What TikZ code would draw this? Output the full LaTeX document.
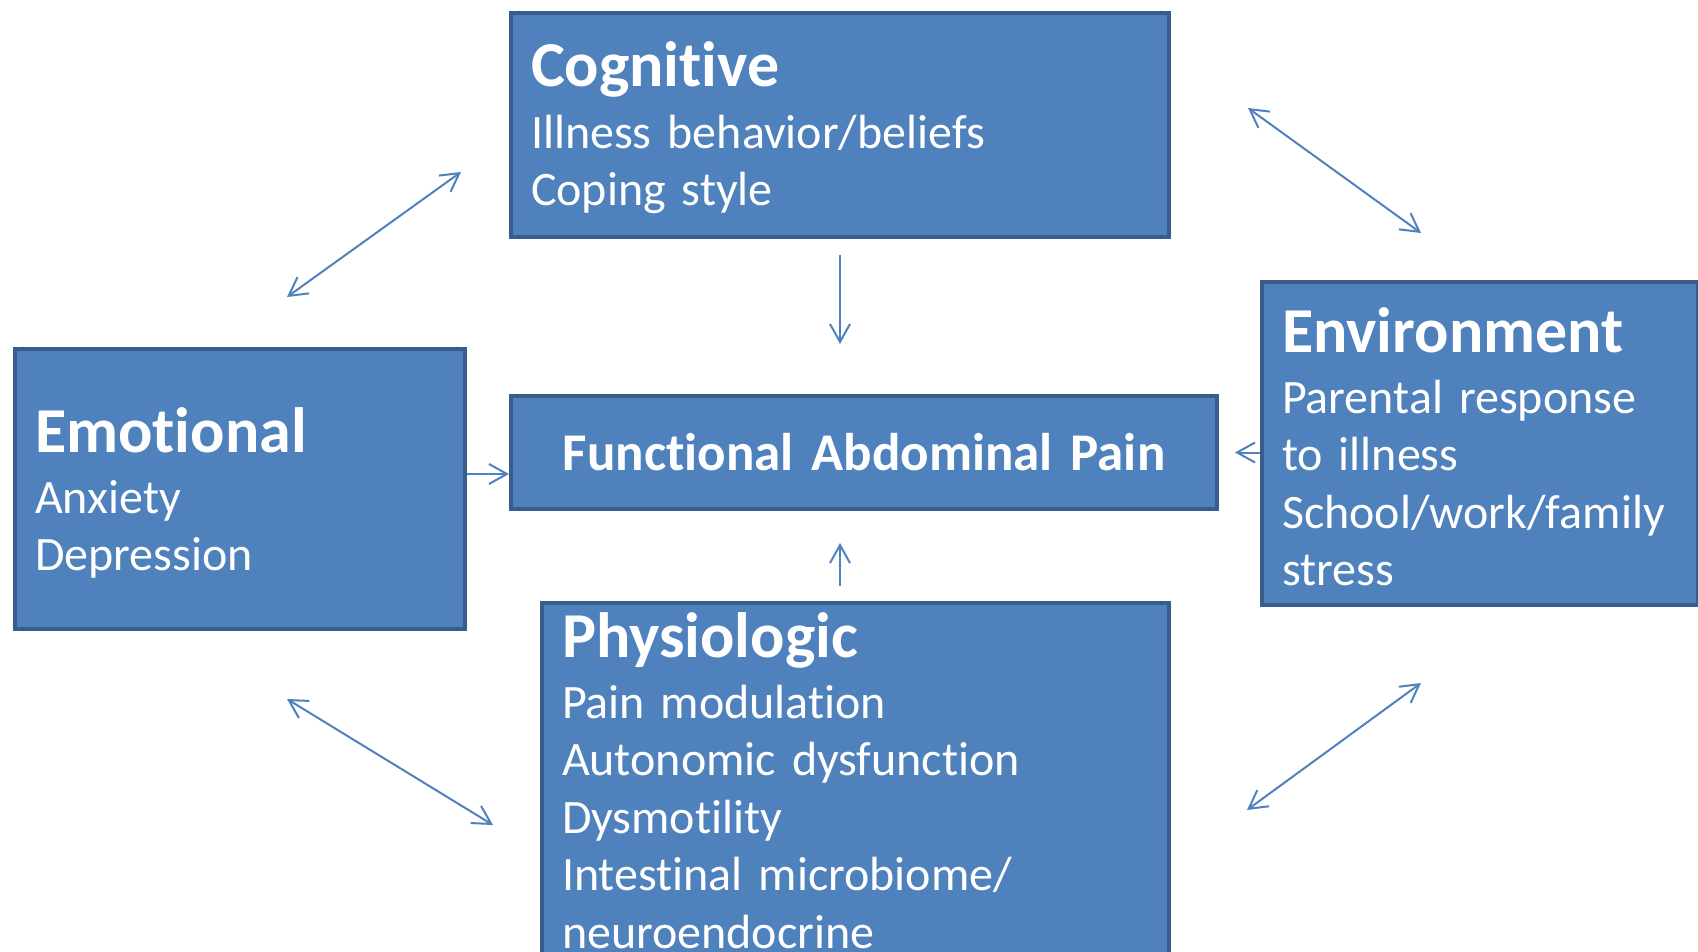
\documentclass[tikz,border=0pt]{standalone}
\usepackage{fontspec}
\setmainfont{Carlito}[Ligatures=NoCommon]
\usetikzlibrary{arrows.meta,positioning}
\XeTeXinterwordspaceshaping=0

\definecolor{boxblue}{RGB}{79,129,189}
\definecolor{boxline}{RGB}{56,93,138}
\newcommand{\tightwords}{\fontdimen2\font=0.12em\relax}

\begin{document}
\begin{tikzpicture}[x = 0.5pt, y = -0.5pt,
  box/.style = {draw = boxline, fill = boxblue, line width = 2pt, text = white, align = left,
    inner xsep = 10pt, inner ysep = 0pt, anchor = north west, font = {\fontsize{24}{28.7}\selectfont\tightwords}},
  arr/.style = {boxblue, line width = 1pt, -{Straight Barb[length=9pt, width=10pt]}},
  dblarr/.style = {boxblue, line width = 1pt, {Straight Barb[length=9pt, width=10pt]}-{Straight Barb[length=9pt, width=10pt]}}]
\clip (0,0) rectangle (1698,952);

% boxes
\node[box, text width = 309pt, text height = 37pt, text depth = 75pt] (cog) at (509,11)
  {{\fontsize{32}{38}\selectfont\bfseries Cognitive}\\[2pt] Illness behavior/beliefs\\ Coping style};
\node[box, align = center, text width = 333pt, minimum height = 56.5pt, font = {\fontsize{26.5}{31}\selectfont\bfseries\tightwords}] (fap) at (509,394)
  {Functional Abdominal Pain};
\node[box, text width = 205pt, text height = 51.5pt, text depth = 88.5pt] (emo) at (13,347)
  {{\fontsize{32}{38}\selectfont\bfseries Emotional}\\[2pt] Anxiety\\ Depression};
\node[box, text width = 198pt, text height = 35pt, text depth = 126.5pt] (env) at (1260,280)
  {{\fontsize{32}{38}\selectfont\bfseries Environment}\\[2pt] Parental response\\ to illness\\ School/work/family\\ stress};
\node[box, text width = 293.5pt, text height = 27pt, text depth = 173pt] (phys) at (540,601)
  {{\fontsize{32}{38}\selectfont\bfseries Physiologic}\\[2pt] Pain modulation\\ Autonomic dysfunction\\ Dysmotility\\ Intestinal microbiome/\\ neuroendocrine};

% arrows into the centre
\draw[arr, shorten <= 8pt, shorten >= 25pt] (cog.south) -- (cog.south |- fap.north);
\draw[arr] (emo.east |- 0,474) -- (fap.west |- 0,474);
\draw[arr, shorten >= 8pt] (env.west |- fap.east) -- (fap.east);
\draw[arr, shorten <= 7.5pt, shorten >= 16pt] (cog.south |- phys.north) -- (cog.south |- fap.south);

% links between the outer boxes
\coordinate (ec-a) at (287,297);
\coordinate (ec-b) at (461,172);
\coordinate (ce-a) at (1248,108);
\coordinate (ce-b) at (1421,233);
\coordinate (ep-a) at (287,699);
\coordinate (ep-b) at (493,825);
\coordinate (pe-a) at (1247,810);
\coordinate (pe-b) at (1421,683);
\draw[dblarr] (ec-a) -- (ec-b);
\draw[dblarr] (ce-a) -- (ce-b);
\draw[dblarr] (ep-a) -- (ep-b);
\draw[dblarr] (pe-a) -- (pe-b);
\end{tikzpicture}
\end{document}
